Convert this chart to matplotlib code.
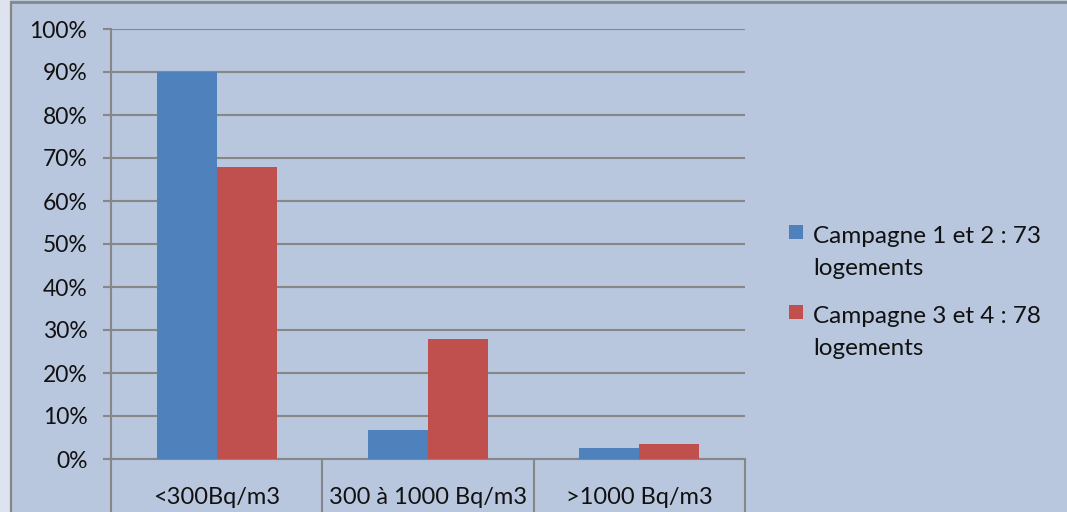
import matplotlib
matplotlib.use("Agg")
import matplotlib.pyplot as plt
from matplotlib.patches import Rectangle
from matplotlib.lines import Line2D
from matplotlib.ticker import FixedLocator, FuncFormatter

categories = ["<300Bq/m3", "300 à 1000 Bq/m3", ">1000 Bq/m3"]
series_names = ["Campagne 1 et 2 : 73\nlogements", "Campagne 3 et 4 : 78\nlogements"]
campagne_1_2 = [90.0, 6.8, 2.6]
campagne_3_4 = [67.8, 28.0, 3.5]
y_ticks = [0, 10, 20, 30, 40, 50, 60, 70, 80, 90, 100]

BG = "#b8c6de"
BLUE = "#4f81bd"
RED = "#c0504d"
GRID = "#878787"
FONT = "Lato"

W, H = 1067, 512
fig = plt.figure(figsize=(W / 100, H / 100), dpi=100, facecolor=BG)

# outer chart decoration
fig.patches.append(Rectangle((0, 0), 11 / W, 1, transform=fig.transFigure,
                             facecolor="#dde4f0", edgecolor="none", zorder=0))
fig.lines.append(Line2D([11 / W, 11 / W], [0, 1 - 1.5 / H], transform=fig.transFigure,
                       color=GRID, lw=1.6))
fig.lines.append(Line2D([11 / W, 1], [1 - 1.5 / H, 1 - 1.5 / H], transform=fig.transFigure,
                       color=GRID, lw=2))

ax = fig.add_axes([111 / W, (H - 459) / H, (745 - 111) / W, (459 - 29) / H])
ax.set_facecolor(BG)

x = list(range(len(categories)))
w = 0.284
ax.bar([i - w / 2 for i in x], campagne_1_2, width=w, color=BLUE, zorder=3)
ax.bar([i + w / 2 for i in x], campagne_3_4, width=w, color=RED, zorder=3)

ax.set_xlim(-0.5, len(categories) - 0.5)
ax.set_ylim(0, 100)

ax.set_yticks(y_ticks)
ax.yaxis.set_major_formatter(FuncFormatter(lambda v, p: f"{int(v)}%"))
ax.yaxis.grid(True, color=GRID, lw=1.5, zorder=1)
ax.tick_params(axis="y", length=6, width=1.5, color=GRID, pad=11,
               labelsize=16.5)
for t in ax.get_yticklabels():
    t.set_fontfamily(FONT)
    t.set_color("#111111")

ax.set_xticks(x)
ax.set_xticklabels(categories, fontfamily=FONT, fontsize=17, color="#111111")
ax.tick_params(axis="x", which="major", length=0, pad=20)
ax.xaxis.set_minor_locator(FixedLocator([i - 0.5 for i in range(len(categories) + 1)]))
ax.tick_params(axis="x", which="minor", length=45, width=1.5, color=GRID)

for s in ["top", "right"]:
    ax.spines[s].set_visible(False)
ax.spines["left"].set_color(GRID)
ax.spines["left"].set_linewidth(1.5)
ax.spines["bottom"].set_color(GRID)
ax.spines["bottom"].set_linewidth(1.5)

# legend
colors = [BLUE, RED]
tops = [225, 305]
for name, c, top in zip(series_names, colors, tops):
    fig.patches.append(Rectangle((789 / W, 1 - (top + 14) / H), 14 / W, 14 / H,
                                 transform=fig.transFigure, facecolor=c,
                                 edgecolor="none", zorder=5))
    fig.text(813 / W, 1 - (top + 1) / H, name, fontfamily=FONT, fontsize=17.5,
             va="top", ha="left", color="#111111", linespacing=1.62)

fig.savefig("out.png", dpi=100, facecolor=BG)
